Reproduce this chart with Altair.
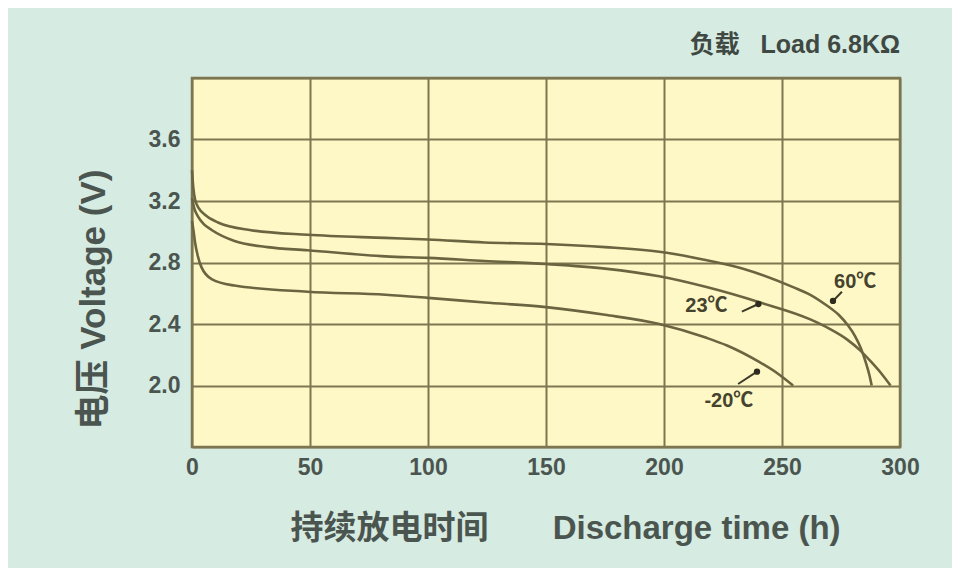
import altair as alt
import pandas as pd

# ---- data (hours, volts) ----
h_60 = [0, 0.6, 1.3, 3, 5.5, 11, 25, 49, 82, 100, 124, 150, 175, 198, 216.5, 233.5, 254.7, 262, 269, 274, 278, 281, 283.5, 285.5, 287, 288]
v_60 = [3.40, 3.28, 3.21, 3.15, 3.11, 3.06, 3.01, 2.98, 2.96, 2.95, 2.93, 2.92, 2.90, 2.87, 2.82, 2.76, 2.64, 2.59, 2.52, 2.46, 2.39, 2.32, 2.24, 2.15, 2.07, 2.00]

h_23 = [0, 1, 2.5, 5, 8.5, 18, 32, 49, 82, 100, 124, 150, 175, 198, 218, 240.7, 262, 270, 277.5, 283, 288, 292, 296]
v_23 = [3.22, 3.15, 3.10, 3.05, 3.01, 2.94, 2.90, 2.88, 2.84, 2.83, 2.81, 2.79, 2.76, 2.71, 2.64, 2.54, 2.43, 2.37, 2.30, 2.23, 2.15, 2.08, 2.00]

h_m20 = [0, 0.7, 1.3, 2.5, 4, 8.5, 18, 49, 82, 100, 124, 150, 175, 198, 218, 226.7, 240.7, 248, 254.7]
v_m20 = [3.07, 3.00, 2.93, 2.84, 2.77, 2.69, 2.65, 2.61, 2.59, 2.57, 2.54, 2.51, 2.46, 2.40, 2.31, 2.26, 2.15, 2.08, 2.00]

series_names = ["60℃", "23℃", "-20℃"]

label_text = ["60℃", "23℃", "-20℃"]
label_h = [281, 218, 227.5]
label_v = [2.67, 2.52, 1.90]

ptr_group = ["60", "60", "23", "23", "-20", "-20"]
ptr_h = [275.4, 271.6, 233, 240, 231.4, 239.4]
ptr_v = [2.61, 2.55, 2.48, 2.53, 2.01, 2.09]

dot_h = [271.6, 240, 239.4]
dot_v = [2.55, 2.53, 2.09]

x_ticks = [0, 50, 100, 150, 200, 250, 300]
y_ticks = [1.6, 2.0, 2.4, 2.8, 3.2, 3.6, 4.0]

NB = "\u00a0"
load_text = ["负载" + NB * 3 + "Load 6.8KΩ"]
load_h = [300]
load_v = [4.16]

# ---- tables ----
rows = []
for name, hs, vs in zip(series_names, [h_60, h_23, h_m20], [v_60, v_23, v_m20]):
    for i, (h, v) in enumerate(zip(hs, vs)):
        rows.append({"series": name, "h": h, "v": v, "order": i})
curves = pd.DataFrame(rows)
labels = pd.DataFrame({"text": label_text, "h": label_h, "v": label_v})
ptrs = pd.DataFrame({"g": ptr_group, "h": ptr_h, "v": ptr_v})
dots = pd.DataFrame({"h": dot_h, "v": dot_v})
load = pd.DataFrame({"text": load_text, "h": load_h, "v": load_v})

GRID = "#7d7650"
CURVE = "#6a6440"
TEXT = "#4b5550"
FONT = "'Liberation Sans', 'Noto Sans CJK SC', sans-serif"

x_scale = alt.Scale(domain=[0, 300], nice=False)
y_scale = alt.Scale(domain=[1.6, 4.0], nice=False, zero=False)

x_enc = alt.X("h:Q", scale=x_scale, axis=alt.Axis(
    values=x_ticks, grid=True, gridColor=GRID, gridWidth=2, gridOpacity=1,
    ticks=False, domain=False, labelFontSize=23, labelColor=TEXT, labelFont=FONT,
    labelFontWeight="bold", labelPadding=9, labelFlush=False,
    title="持续放电时间" + NB * 7 + "Discharge time (h)", titleFont=FONT, titleFontSize=33,
    titleFontWeight="bold", titleColor=TEXT, titleX=373, titleY=91,
    titleAlign="center", titleBaseline="alphabetic"))
y_enc = alt.Y("v:Q", scale=y_scale, axis=alt.Axis(
    values=y_ticks, grid=True, gridColor=GRID, gridWidth=2, gridOpacity=1,
    ticks=False, domain=False, labelFontSize=23, labelColor=TEXT, labelFont=FONT,
    labelFontWeight="bold", labelPadding=12, labelFlush=False,
    labelExpr="datum.value < 1.9 || datum.value > 3.9 ? '' : format(datum.value, '.1f')",
    title="电压" + NB + "Voltage (V)", titleFont=FONT, titleFontSize=35,
    titleFontWeight="bold", titleColor=TEXT, titleX=-99, titleY=221,
    titleAngle=270, titleAlign="center", titleBaseline="middle"))

lines = alt.Chart(curves).mark_line(color=CURVE, strokeWidth=2.6, interpolate="monotone").encode(
    x=x_enc, y=y_enc, detail="series:N", order="order:Q")

lbl = alt.Chart(labels).mark_text(font=FONT, fontSize=20, fontWeight="bold", color="#45432e",
                                  align="center", baseline="middle").encode(
    x="h:Q", y="v:Q", text="text:N")

ptr = alt.Chart(ptrs).mark_line(color="#3d3b28", strokeWidth=2).encode(
    x="h:Q", y="v:Q", detail="g:N")

dot = alt.Chart(dots).mark_point(filled=True, color="#2e2c1e", size=40, opacity=1).encode(
    x="h:Q", y="v:Q")

ld = alt.Chart(load).mark_text(font=FONT, fontSize=25, fontWeight="bold", color="#3f4843",
                                align="right", baseline="alphabetic").encode(
    x="h:Q", y="v:Q", text="text:N")

chart = alt.layer(lines, ptr, dot, lbl, ld).properties(
    width=708, height=369,
    autosize=alt.AutoSizeParams(type="none"),
    padding={"left": 184, "top": 70, "right": 52, "bottom": 121},
    background="#d6ebe1",
).configure_view(fill="#fef8c6", stroke=GRID, strokeWidth=2.5)

chart.save("out.html", embed_options={"renderer": "svg", "actions": False})
